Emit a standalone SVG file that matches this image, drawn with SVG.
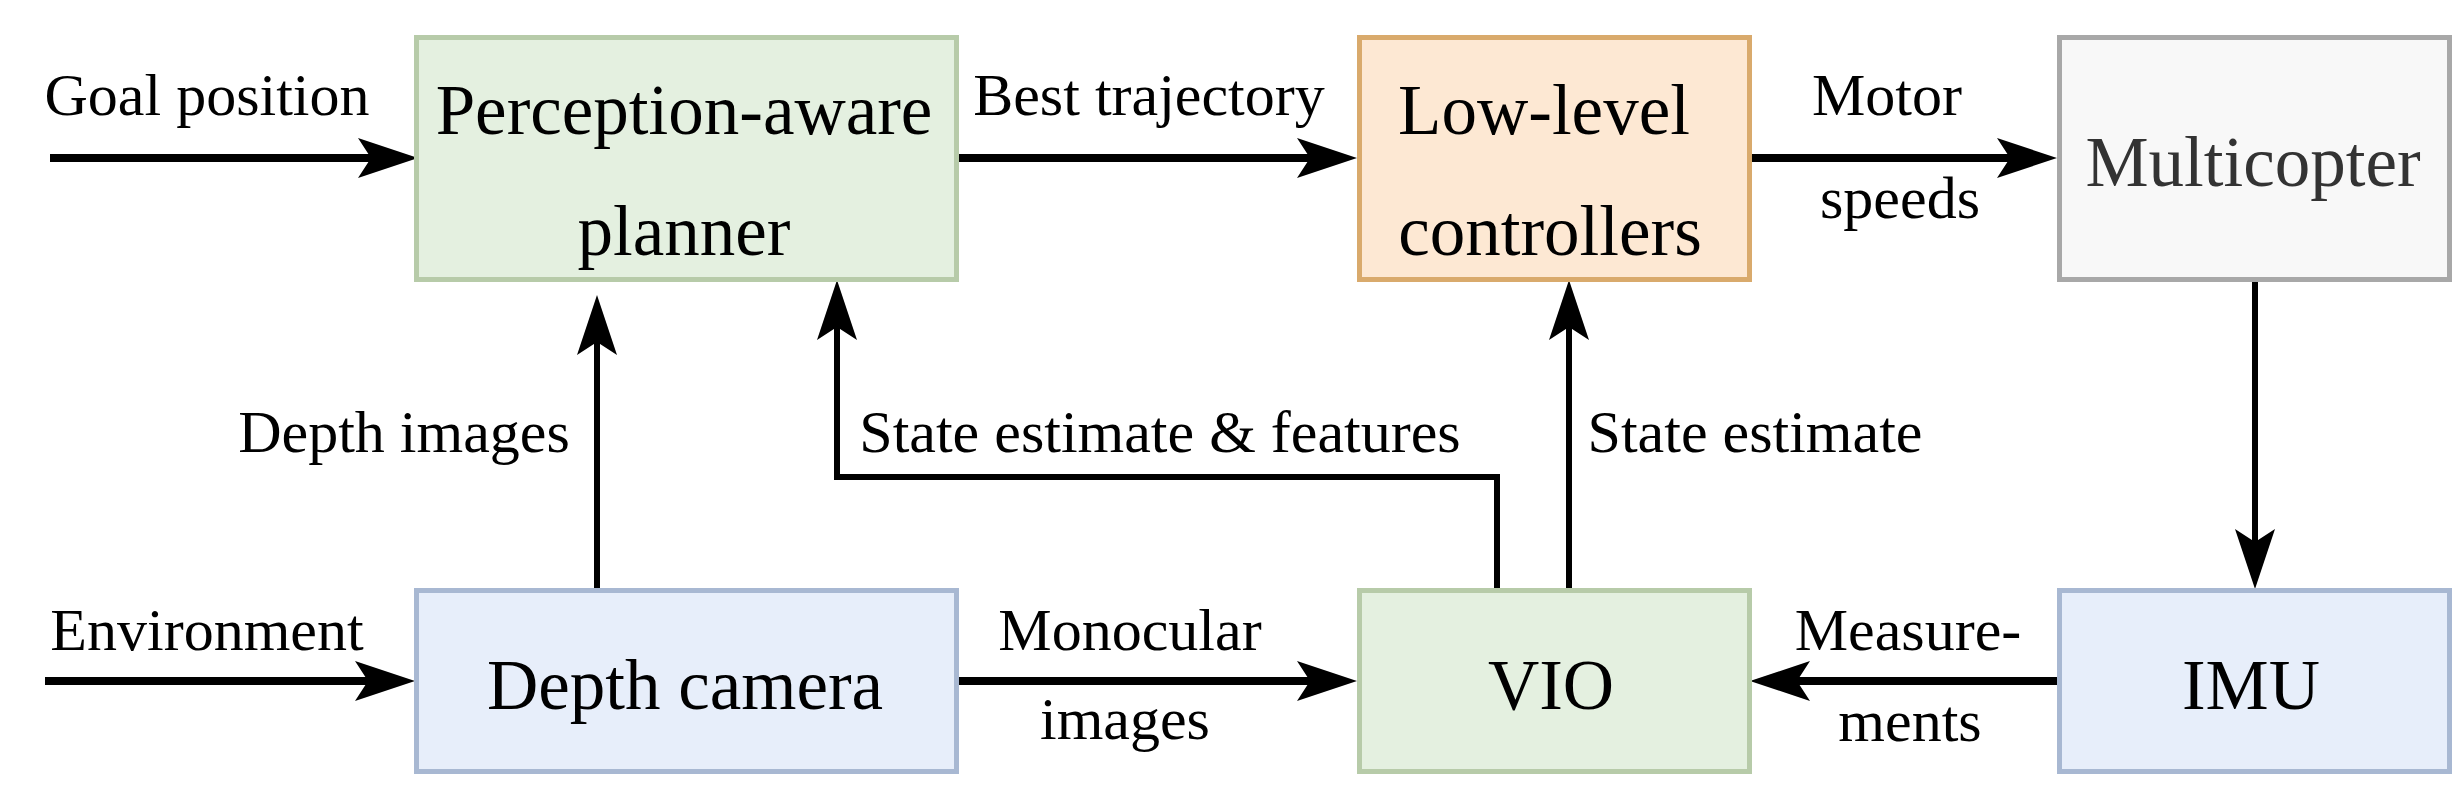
<svg xmlns="http://www.w3.org/2000/svg" width="2454" height="810" viewBox="0 0 2454 810">
<style>
  .box { stroke-width: 5; }
  .green { fill: #e4f0e0; stroke: #b7cba9; }
  .blue { fill: #e7eefa; stroke: #a8b8d2; }
  .orange { fill: #fde8d3; stroke: #d9aa6c; }
  .gray { fill: #f8f8f8; stroke: #a8a8a8; }
  .node { font-family: "Liberation Serif", "Times New Roman", serif; font-size: 71px; fill: #000; text-anchor: middle; }
  .lbl { font-family: "Liberation Serif", "Times New Roman", serif; font-size: 60px; fill: #000; text-anchor: middle; }
  .conn { fill: none; stroke: #000; stroke-linejoin: miter; }
  .h { stroke-width: 8; }
  .v { stroke-width: 6; }
</style>
<defs>
  <marker id="arr" markerUnits="userSpaceOnUse" markerWidth="60" markerHeight="40" viewBox="0 0 60 40" refX="13" refY="20" orient="auto" overflow="visible">
    <path d="M60,20 L0,0 L13,20 L0,40 Z" fill="#000"/>
  </marker>
</defs>
<rect width="2454" height="810" fill="#ffffff"/>

<g id="connectors">
  <path class="conn h" d="M50,158 H371" marker-end="url(#arr)"/>
  <path class="conn h" d="M959,158 H1310" marker-end="url(#arr)"/>
  <path class="conn h" d="M1752,158 H2010" marker-end="url(#arr)"/>
  <path class="conn h" d="M45,681 H368" marker-end="url(#arr)"/>
  <path class="conn h" d="M959,681 H1310" marker-end="url(#arr)"/>
  <path class="conn h" d="M2057,681 H1797" marker-end="url(#arr)"/>
  <path class="conn v" d="M597,588 V342" marker-end="url(#arr)"/>
  <path class="conn v" d="M1497,588 V477 H837 V327" marker-end="url(#arr)"/>
  <path class="conn v" d="M1569,588 V327" marker-end="url(#arr)"/>
  <path class="conn v" d="M2255,280 V542" marker-end="url(#arr)"/>
</g>

<g id="labels">
  <text class="lbl" x="207" y="115">Goal position</text>
  <text class="lbl" x="1149" y="115">Best trajectory</text>
  <text class="lbl" x="1887" y="115">Motor</text>
  <text class="lbl" x="1900" y="218">speeds</text>
  <text class="lbl" x="404" y="452">Depth images</text>
  <text class="lbl" x="1160" y="452">State estimate &amp; features</text>
  <text class="lbl" x="1755" y="452">State estimate</text>
  <text class="lbl" x="207" y="650">Environment</text>
  <text class="lbl" x="1130" y="650">Monocular</text>
  <text class="lbl" x="1125" y="739">images</text>
  <text class="lbl" x="1908" y="650">Measure-</text>
  <text class="lbl" x="1910" y="741">ments</text>
</g>

<g id="planner">
  <rect class="box green" x="416.5" y="37.5" width="540" height="242"/>
  <text class="node" x="684" y="134">Perception-aware</text>
  <text class="node" x="684" y="255">planner</text>
</g>
<g id="low-level">
  <rect class="box orange" x="1359.5" y="37.5" width="390" height="242"/>
  <text class="node" x="1544" y="134">Low-level</text>
  <text class="node" x="1550" y="255">controllers</text>
</g>
<g id="multicopter">
  <rect class="box gray" x="2059.5" y="37.5" width="390" height="242"/>
  <text class="node" x="2253" y="186" style="fill:#333333">Multicopter</text>
</g>
<g id="depth-camera">
  <rect class="box blue" x="416.5" y="590.5" width="540" height="181"/>
  <text class="node" x="685" y="709">Depth camera</text>
</g>
<g id="vio">
  <rect class="box green" x="1359.5" y="590.5" width="390" height="181"/>
  <text class="node" x="1551" y="709">VIO</text>
</g>
<g id="imu">
  <rect class="box blue" x="2059.5" y="590.5" width="390" height="181"/>
  <text class="node" x="2251" y="709">IMU</text>
</g>
</svg>
